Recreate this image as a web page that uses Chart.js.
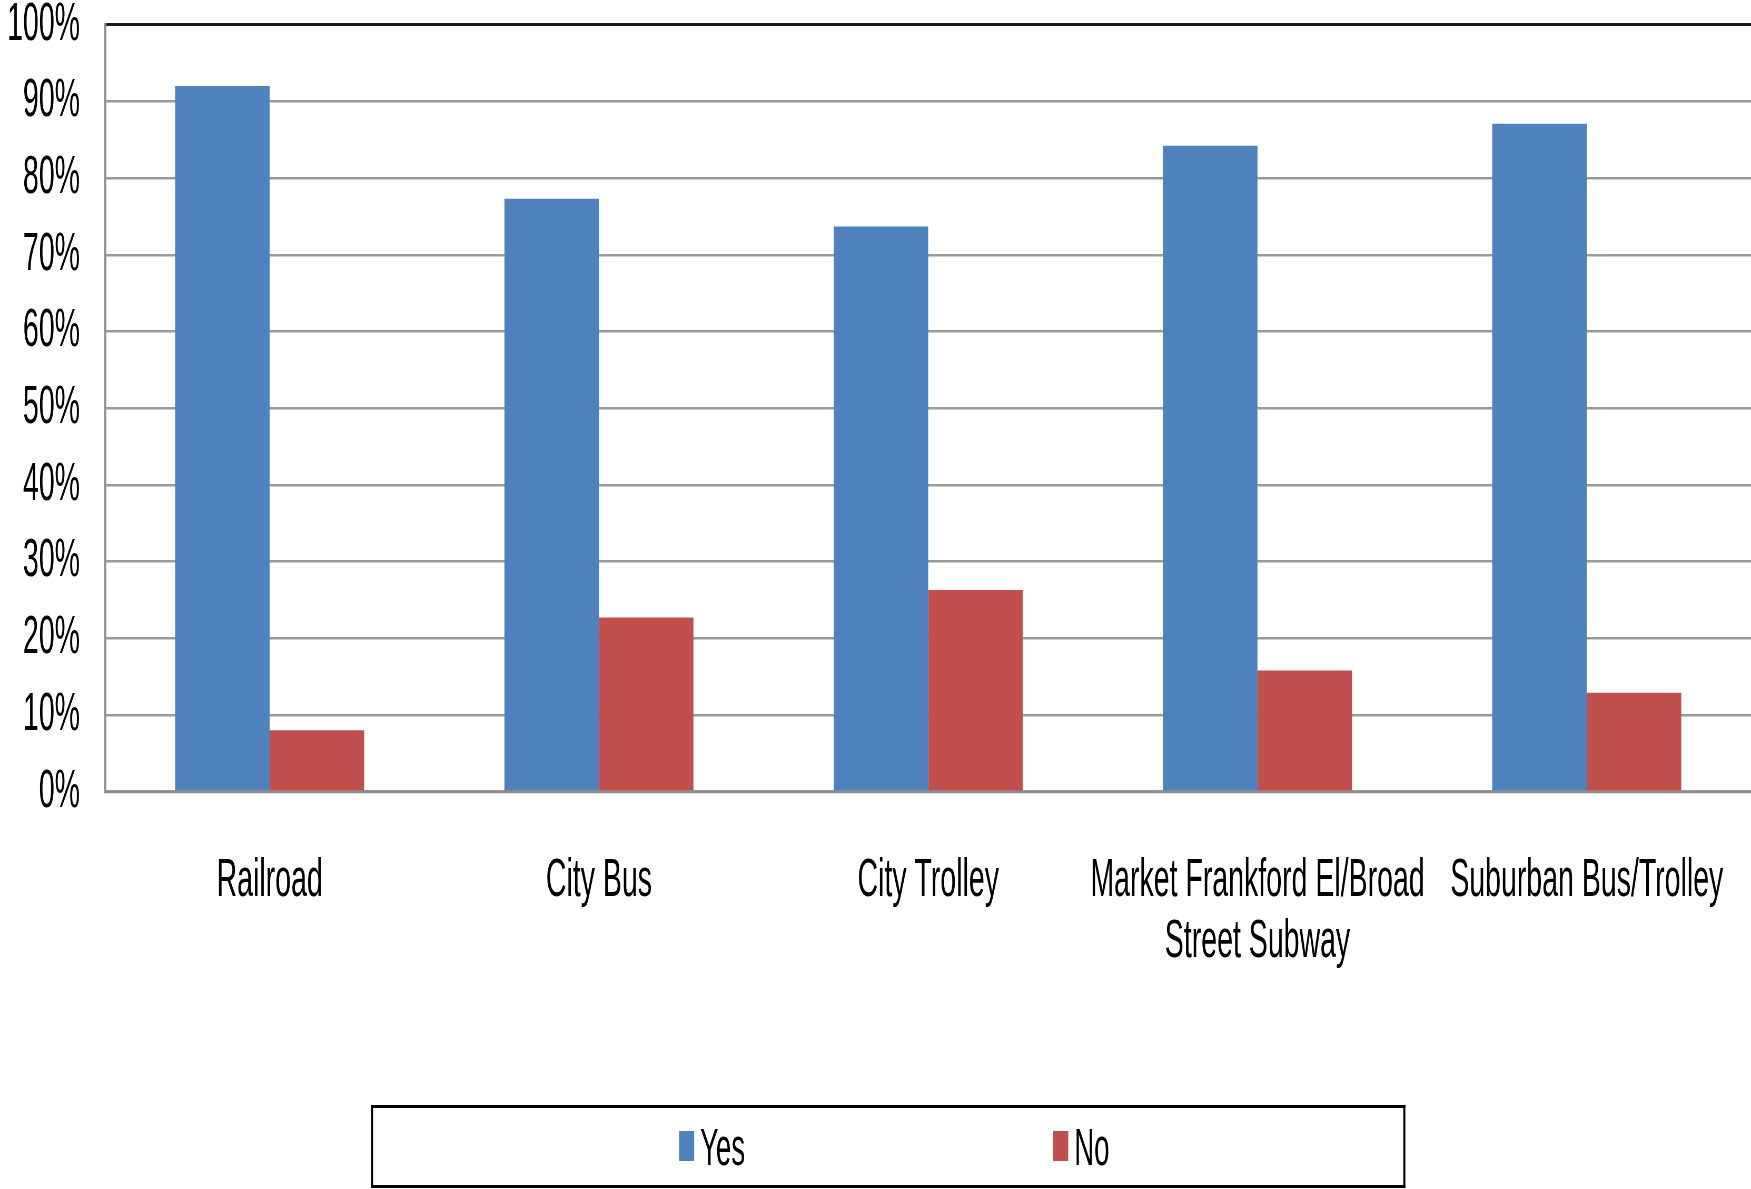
<!DOCTYPE html>
<html>
<head>
<meta charset="utf-8">
<script src="https://cdn.jsdelivr.net/npm/chart.js@4"></script>
<style>
  html, body { margin: 0; padding: 0; background: #ffffff; overflow: hidden; width: 1751px; height: 1189px; }
  /* The chart is laid out in a short box and stretched vertically, giving tall condensed lettering. */
  #wrap { position: absolute; left: 0; top: 0; width: 1751px; height: 626px;
          transform: scaleY(1.89936); transform-origin: 0 0; }
</style>
</head>
<body>
<div id="wrap"><canvas id="chart"></canvas></div>
<script>
// Vertical stretch applied to the chart box (final height / layout height)
const STRETCH = 1189 / 626;

// Survey responses by mode of transit (share of respondents, %)
const categories = [
  'Railroad',
  'City Bus',
  'City Trolley',
  ['Market Frankford El/Broad', 'Street Subway'],
  'Suburban Bus/Trolley'
];
const seriesNames = ['Yes', 'No'];
const yesShare = [92, 77.3, 73.7, 84.2, 87.1];
const noShare  = [8, 22.7, 26.3, 15.8, 12.9];
const yTickLabels = ['0%', '10%', '20%', '30%', '40%', '50%', '60%', '70%', '80%', '90%', '100%'];

const FONT = '"Liberation Sans", Arial, Helvetica, sans-serif';

// Boxed legend spread across the bottom of the chart
const boxedLegend = {
  id: 'boxedLegend',
  afterDraw(chart) {
    const ctx = chart.ctx;
    const left = 371, right = 1405;
    const top = 1105 / STRETCH, bottom = 1188 / STRETCH;
    const hLine = 3 / STRETCH, vLine = 2;
    ctx.save();
    ctx.fillStyle = '#000000';
    ctx.fillRect(left, top, right - left, hLine);
    ctx.fillRect(left, bottom - hLine, right - left, hLine);
    ctx.fillRect(left, top, vLine, bottom - top);
    ctx.fillRect(right - vLine, top, vLine, bottom - top);

    const itemX = [679, 1053];
    const midY = 1146 / STRETCH;
    const swW = 15, swH = 30 / STRETCH;
    const fontSize = 27.5;
    ctx.font = `${fontSize}px ${FONT}`;
    ctx.textBaseline = 'alphabetic';
    ctx.textAlign = 'left';
    chart.data.datasets.forEach((ds, i) => {
      ctx.fillStyle = ds.backgroundColor;
      ctx.fillRect(itemX[i], midY - swH / 2, swW, swH);
      ctx.fillStyle = '#000000';
      ctx.fillText(ds.label, itemX[i] + swW + 6, midY + fontSize * 0.716 / 2);
    });
    ctx.restore();
  }
};

new Chart(document.getElementById('chart'), {
  type: 'bar',
  data: {
    labels: categories,
    datasets: [
      { label: seriesNames[0], data: yesShare, backgroundColor: '#4F81BD', borderWidth: 0 },
      { label: seriesNames[1], data: noShare,  backgroundColor: '#C0504D', borderWidth: 0 }
    ]
  },
  options: {
    responsive: true,
    maintainAspectRatio: false,
    devicePixelRatio: STRETCH,
    animation: false,
    layout: { padding: { top: 13, left: 0, right: 0, bottom: 0 } },
    datasets: { bar: { categoryPercentage: 0.574, barPercentage: 1.0 } },
    plugins: {
      legend: { display: false },
      tooltip: { enabled: false },
      title: { display: false }
    },
    scales: {
      x: {
        grid: { display: false, drawTicks: false },
        border: { display: true, color: '#8c8c8c', width: 1.2 },
        ticks: {
          color: '#000000',
          font: { family: FONT, size: 28.5, lineHeight: 1.13 },
          padding: 31,
          autoSkip: false,
          maxRotation: 0,
          minRotation: 0
        },
        afterFit(scale) {
          scale.height = 626 - 416.8;
          scale.paddingLeft = 0;
          scale.paddingRight = 0;
        }
      },
      y: {
        min: 0,
        max: 100,
        grid: {
          drawTicks: false,
          color: (c) => (c.tick && c.tick.value === 100 ? '#1a1a1a' : '#9a9a9a'),
          lineWidth: (c) => (c.tick && c.tick.value === 100 ? 1.6 : 1.3)
        },
        border: { display: true, color: '#8c8c8c', width: 2 },
        ticks: {
          stepSize: 10,
          color: '#000000',
          font: { family: FONT, size: 28.5, lineHeight: 0.8 },
          padding: 25,
          callback: (v, i) => yTickLabels[i]
        },
        afterFit(scale) {
          scale.width = 105;
          scale.paddingTop = 0;
          scale.paddingBottom = 0;
        }
      }
    }
  },
  plugins: [boxedLegend]
});
</script>
</body>
</html>
